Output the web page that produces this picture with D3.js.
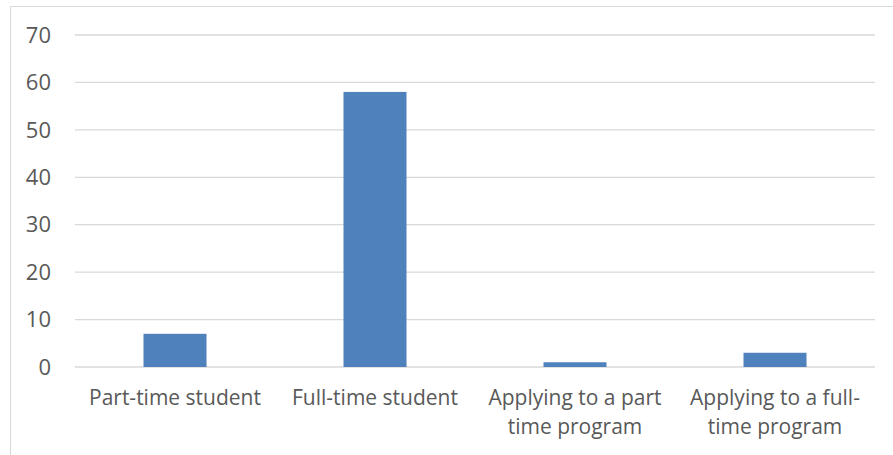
<html>
<head>
<style type="text/css">
	body { margin: 0; background: white; }
	.chart text { fill: #595959; font-family: "Open Sans", "Noto Sans", sans-serif; font-size: 21px; }
	.chart .ticks text { font-size: 22px; }
	.chart .grid line { stroke: #d9d9d9; stroke-width: 1.3; }
</style>
</head>
<body>
<svg class="chart" width=893 height=455></svg>
<script src='https://d3js.org/d3.v7.min.js'></script>
<script>
// chart values
var categories = [["Part-time student"], ["Full-time student"], ["Applying to a part", "time program"], ["Applying to a full-", "time program"]];
var values = [7, 58, 1, 3];
var yTicks = [0, 10, 20, 30, 40, 50, 60, 70];

var svg = d3.select("svg");

// frame around the chart
svg.append("rect")
	.attr("x", 10.5).attr("y", 6.5)
	.attr("width", 900).attr("height", 460)
	.attr("fill", "none")
	.attr("stroke", "#d9d9d9");

var xScale = d3.scaleBand()
	.domain(d3.range(values.length))
	.range([75, 875])
	.paddingInner(0.685)
	.paddingOuter(0.3425);

var yScale = d3.scaleLinear()
	.domain([0, 70])
	.range([367, 35]);

//Gridlines
svg.append("g")
	.attr("class", "grid")
	.selectAll("line")
	.data(yTicks)
	.enter()
	.append("line")
	.attr("x1", 75).attr("x2", 875)
	.attr("y1", function(d) { return yScale(d); })
	.attr("y2", function(d) { return yScale(d); });

//Y tick labels
svg.append("g")
	.attr("class", "ticks")
	.selectAll("text")
	.data(yTicks)
	.enter()
	.append("text")
	.attr("x", 51)
	.attr("y", function(d) { return yScale(d); })
	.attr("dy", "0.35em")
	.style("text-anchor", "end")
	.text(function(d) { return d; });

//Bars
svg.append("g")
	.selectAll("rect")
	.data(values)
	.enter()
	.append("rect")
	.attr("x", function(d, i) { return xScale(i); })
	.attr("width", xScale.bandwidth())
	.attr("y", function(d) { return yScale(d); })
	.attr("height", function(d) { return yScale(0) - yScale(d); })
	.attr("fill", "#4f81bd");

//Category labels
var labels = svg.append("g")
	.selectAll("text")
	.data(categories)
	.enter()
	.append("text")
	.attr("x", function(d, i) { return xScale(i) + xScale.bandwidth() / 2; })
	.attr("y", 405)
	.style("text-anchor", "middle");

labels.selectAll("tspan")
	.data(function(d, i) { return d.map(function(t) { return {t: t, x: xScale(i) + xScale.bandwidth() / 2}; }); })
	.enter()
	.append("tspan")
	.attr("x", function(d) { return d.x; })
	.attr("dy", function(d, j) { return j == 0 ? 0 : 29; })
	.text(function(d) { return d.t; });
</script>
</body>
</html>
